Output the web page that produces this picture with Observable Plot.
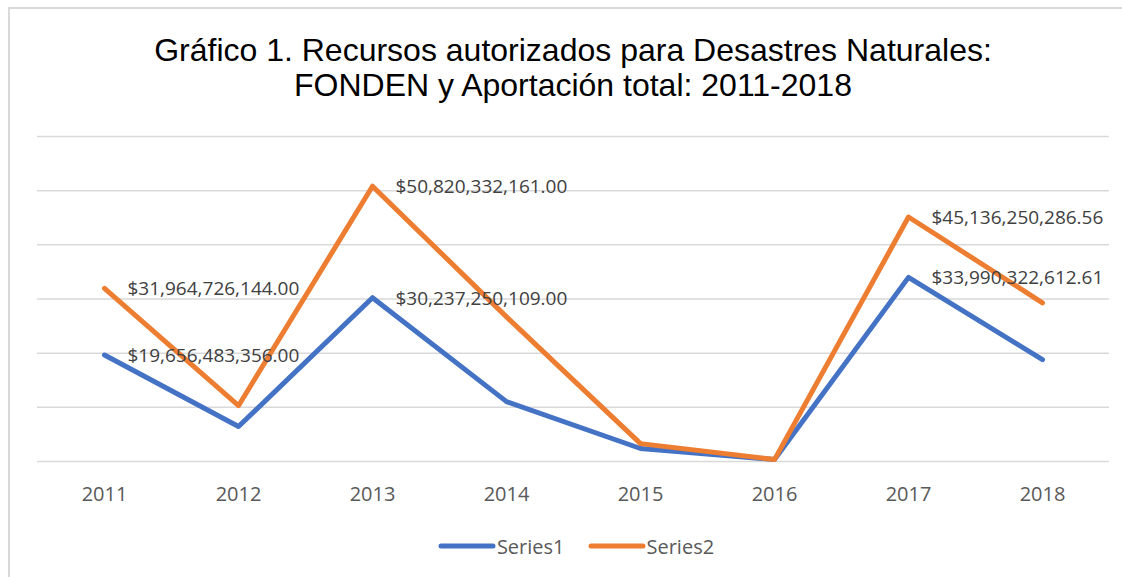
<!DOCTYPE html>
<html>
<head>
<meta charset="utf-8">
<script src="https://cdn.jsdelivr.net/npm/d3@7"></script>
<script src="https://cdn.jsdelivr.net/npm/@observablehq/plot@0.6"></script>
<style>
  html, body { margin: 0; padding: 0; background: #fff; overflow: hidden; }
  #frame { position: absolute; left: 8px; top: 7px; width: 1200px; height: 700px;
           border-top: 2px solid #d9d9d9; border-left: 2px solid #d9d9d9; pointer-events: none; }
  #wrap { position: relative; width: 1122px; height: 577px; }
  #title { margin-left: 8px; width: 1130px; height: 120px; box-sizing: border-box; padding-top: 33px;
           text-align: center; font-family: "Liberation Sans", Arial, sans-serif; font-size: 32px;
           line-height: 35px; color: #000; }
  #legend { display: flex; justify-content: center; align-items: center; gap: 23px; height: 52px;
            box-sizing: border-box; width: 1122px; padding-left: 30px;
            font-family: "Open Sans", sans-serif; font-size: 20px; color: #595959; }
  #legend .item { display: flex; align-items: center; gap: 1px; }
</style>
</head>
<body>
<div id="wrap">
  <div id="title">Gráfico 1. Recursos autorizados para Desastres Naturales:<br>FONDEN y Aportación total: 2011-2018</div>
  <div id="chart"></div>
  <div id="legend"></div>
  <div id="frame"></div>
</div>
<script>
const years = ["2011", "2012", "2013", "2014", "2015", "2016", "2017", "2018"];
const series1 = [19656483356, 6450000000, 30237250109, 11050000000, 2400000000, 350000000, 33990322612.61, 18800000000];
const series2 = [31964726144, 10300000000, 50820332161, 26700000000, 3300000000, 350000000, 45136250286.56, 29300000000];
const seriesNames = ["Series1", "Series2"];
const seriesColors = ["#4472C4", "#ED7D31"];
const labeledYears = ["2011", "2013", "2017"];
const yTicks = [0, 10e9, 20e9, 30e9, 40e9, 50e9, 60e9];

const rows = [];
years.forEach((yr, i) => {
  rows.push({year: yr, value: series1[i], series: seriesNames[0]});
  rows.push({year: yr, value: series2[i], series: seriesNames[1]});
});
const labelRows = rows.filter(d => labeledYears.includes(d.year));
const fmt = v => "$" + d3.format(",.2f")(v);

const plot = Plot.plot({
  width: 1122,
  height: 400,
  marginLeft: 37,
  marginRight: 13,
  marginTop: 16,
  marginBottom: 59,
  style: {fontFamily: "'Open Sans', sans-serif", background: "transparent"},
  x: {type: "point", domain: years, padding: 0.5, label: null, axis: null},
  y: {domain: [0, 60e9], label: null, axis: null},
  color: {domain: seriesNames, range: seriesColors},
  marks: [
    Plot.ruleY(yTicks, {stroke: "#d9d9d9", strokeWidth: 1.5}),
    Plot.axisX({tickSize: 0, tickPadding: 25, fontSize: 20, fill: "#595959", label: null}),
    Plot.line(rows, {x: "year", y: "value", z: "series", stroke: "series", strokeWidth: 5,
                     strokeLinecap: "round", strokeLinejoin: "round"}),
    Plot.text(labelRows, {x: "year", y: "value", text: d => fmt(d.value), textAnchor: "start",
                          dx: 23, dy: 1, lineAnchor: "middle", fontSize: 19, fill: "#404040"})
  ]
});
document.getElementById("chart").appendChild(plot);

const legend = document.getElementById("legend");
seriesNames.forEach((name, i) => {
  const item = document.createElement("div");
  item.className = "item";
  item.innerHTML = `<svg width="58" height="10"><line x1="3" y1="5" x2="55" y2="5" stroke="${seriesColors[i]}" stroke-width="5" stroke-linecap="round"/></svg><span>${name}</span>`;
  legend.appendChild(item);
});
</script>
</body>
</html>
